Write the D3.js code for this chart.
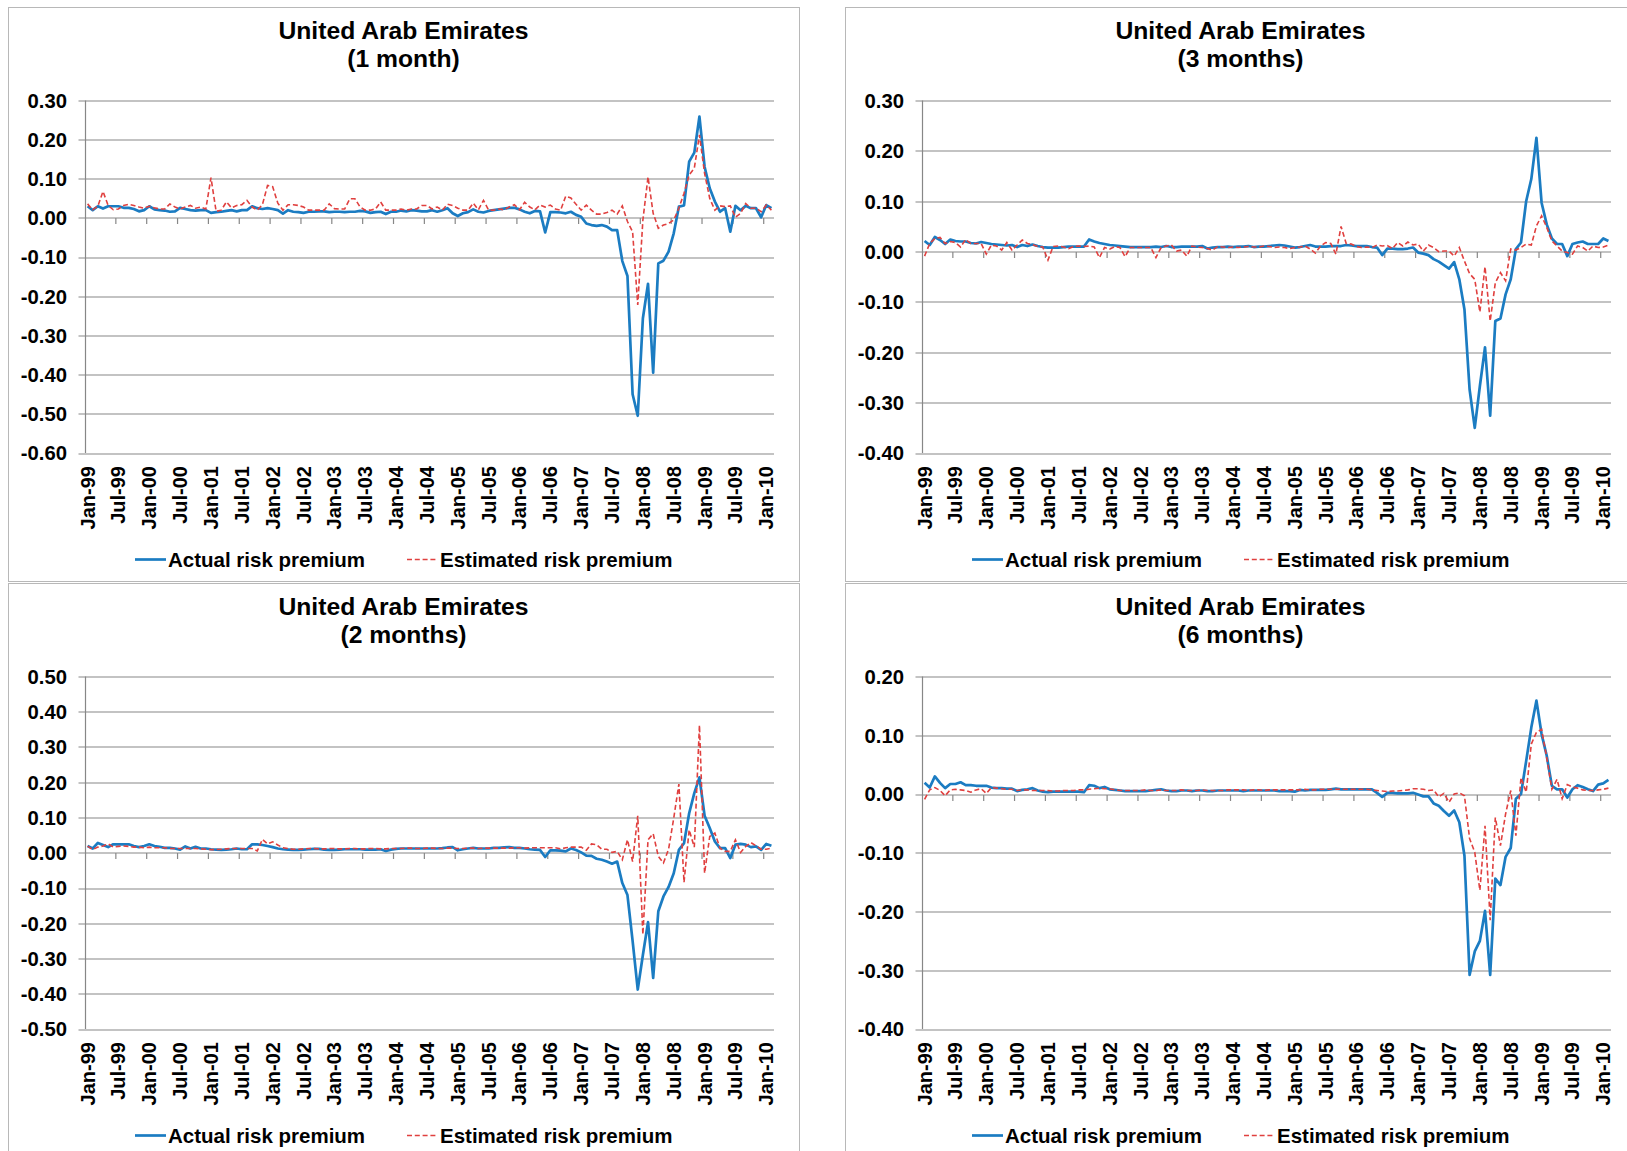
<!DOCTYPE html>
<html>
<head>
<meta charset="utf-8">
<script src="https://cdn.jsdelivr.net/npm/d3@7"></script>
<style>
	body { margin: 0; background: #fff; }
	text { font-family: "Liberation Sans", Arial, sans-serif; font-weight: bold; fill: #000; }
</style>
</head>
<body>
<div id="dataviz"></div>
<script>
// categorie (mesi)
var months = [
	"Jan-99","Feb-99","Mar-99","Apr-99","May-99","Jun-99","Jul-99","Aug-99","Sep-99","Oct-99","Nov-99","Dec-99",
	"Jan-00","Feb-00","Mar-00","Apr-00","May-00","Jun-00","Jul-00","Aug-00","Sep-00","Oct-00","Nov-00","Dec-00",
	"Jan-01","Feb-01","Mar-01","Apr-01","May-01","Jun-01","Jul-01","Aug-01","Sep-01","Oct-01","Nov-01","Dec-01",
	"Jan-02","Feb-02","Mar-02","Apr-02","May-02","Jun-02","Jul-02","Aug-02","Sep-02","Oct-02","Nov-02","Dec-02",
	"Jan-03","Feb-03","Mar-03","Apr-03","May-03","Jun-03","Jul-03","Aug-03","Sep-03","Oct-03","Nov-03","Dec-03",
	"Jan-04","Feb-04","Mar-04","Apr-04","May-04","Jun-04","Jul-04","Aug-04","Sep-04","Oct-04","Nov-04","Dec-04",
	"Jan-05","Feb-05","Mar-05","Apr-05","May-05","Jun-05","Jul-05","Aug-05","Sep-05","Oct-05","Nov-05","Dec-05",
	"Jan-06","Feb-06","Mar-06","Apr-06","May-06","Jun-06","Jul-06","Aug-06","Sep-06","Oct-06","Nov-06","Dec-06",
	"Jan-07","Feb-07","Mar-07","Apr-07","May-07","Jun-07","Jul-07","Aug-07","Sep-07","Oct-07","Nov-07","Dec-07",
	"Jan-08","Feb-08","Mar-08","Apr-08","May-08","Jun-08","Jul-08","Aug-08","Sep-08","Oct-08","Nov-08","Dec-08",
	"Jan-09","Feb-09","Mar-09","Apr-09","May-09","Jun-09","Jul-09","Aug-09","Sep-09","Oct-09","Nov-09","Dec-09",
	"Jan-10","Feb-10"
];

// etichette asse x (ogni 6 mesi)
var tick_labels = ["Jan-99","Jul-99","Jan-00","Jul-00","Jan-01","Jul-01","Jan-02","Jul-02","Jan-03","Jul-03",
	"Jan-04","Jul-04","Jan-05","Jul-05","Jan-06","Jul-06","Jan-07","Jul-07","Jan-08","Jul-08","Jan-09","Jul-09","Jan-10"];

// 1 month
var actual_1m = [
	0.03, 0.02, 0.03, 0.024, 0.03, 0.03, 0.03, 0.026, 0.026, 0.023,
	0.017, 0.02, 0.03, 0.022, 0.02, 0.019, 0.016, 0.017, 0.026, 0.023,
	0.02, 0.019, 0.02, 0.02, 0.013, 0.015, 0.016, 0.018, 0.02, 0.017,
	0.02, 0.02, 0.03, 0.025, 0.023, 0.025, 0.023, 0.02, 0.011, 0.02,
	0.016, 0.015, 0.013, 0.016, 0.016, 0.017, 0.017, 0.015, 0.016, 0.016,
	0.015, 0.016, 0.016, 0.018, 0.017, 0.013, 0.015, 0.016, 0.01, 0.016,
	0.016, 0.019, 0.017, 0.02, 0.019, 0.017, 0.017, 0.02, 0.016, 0.02,
	0.025, 0.012, 0.005, 0.012, 0.015, 0.022, 0.016, 0.014, 0.018, 0.02,
	0.022, 0.024, 0.026, 0.026, 0.022, 0.016, 0.012, 0.018, 0.017, -0.037,
	0.015, 0.015, 0.014, 0.012, 0.016, 0.008, 0.003, -0.014, -0.018, -0.02,
	-0.018, -0.022, -0.031, -0.031, -0.11, -0.148, -0.45, -0.505, -0.256, -0.168,
	-0.395, -0.116, -0.109, -0.086, -0.039, 0.029, 0.032, 0.144, 0.167, 0.259,
	0.131, 0.076, 0.042, 0.016, 0.025, -0.035, 0.031, 0.02, 0.031, 0.025,
	0.025, 0.002, 0.033, 0.025
];
var estimated_1m = [
	0.036, 0.021, 0.03, 0.068, 0.032, 0.021, 0.023, 0.032, 0.035, 0.032,
	0.028, 0.025, 0.03, 0.026, 0.023, 0.023, 0.036, 0.028, 0.023, 0.028,
	0.032, 0.025, 0.028, 0.023, 0.103, 0.017, 0.02, 0.041, 0.026, 0.032,
	0.034, 0.045, 0.028, 0.02, 0.034, 0.083, 0.08, 0.038, 0.02, 0.034,
	0.034, 0.032, 0.028, 0.02, 0.02, 0.02, 0.02, 0.036, 0.024, 0.023,
	0.023, 0.049, 0.049, 0.028, 0.02, 0.02, 0.023, 0.041, 0.02, 0.02,
	0.02, 0.023, 0.02, 0.023, 0.023, 0.032, 0.032, 0.023, 0.028, 0.02,
	0.035, 0.032, 0.025, 0.02, 0.02, 0.038, 0.021, 0.045, 0.02, 0.02,
	0.023, 0.021, 0.028, 0.034, 0.021, 0.04, 0.028, 0.021, 0.033, 0.028,
	0.033, 0.023, 0.02, 0.056, 0.051, 0.035, 0.02, 0.033, 0.02, 0.01,
	0.01, 0.014, 0.02, 0.01, 0.031, -0.009, -0.035, -0.222, -0.005, 0.105,
	0.012, -0.026, -0.018, -0.014, -0.005, 0.025, 0.063, 0.11, 0.127, 0.212,
	0.114, 0.05, 0.02, 0.031, 0.029, 0.031, 0.002, 0.012, 0.037, 0.025,
	0.025, 0.016, 0.033, 0.02
];

// 3 months
var actual_3m = [
	0.021, 0.013, 0.029, 0.023, 0.015, 0.024, 0.021, 0.02, 0.02, 0.017,
	0.016, 0.019, 0.017, 0.015, 0.014, 0.013, 0.012, 0.013, 0.009, 0.013,
	0.011, 0.014, 0.011, 0.009, 0.008, 0.008, 0.008, 0.009, 0.01, 0.01,
	0.01, 0.01, 0.024, 0.02, 0.017, 0.015, 0.013, 0.012, 0.011, 0.01,
	0.009, 0.009, 0.009, 0.009, 0.009, 0.01, 0.009, 0.011, 0.009, 0.009,
	0.01, 0.01, 0.01, 0.01, 0.011, 0.006, 0.008, 0.009, 0.009, 0.01,
	0.009, 0.01, 0.01, 0.011, 0.009, 0.01, 0.01, 0.011, 0.012, 0.013,
	0.012, 0.01, 0.008, 0.009, 0.011, 0.013, 0.01, 0.01, 0.01, 0.011,
	0.011, 0.011, 0.013, 0.012, 0.011, 0.011, 0.011, 0.009, 0.008, -0.007,
	0.006, 0.006, 0.005, 0.005, 0.006, 0.008, -0.002, -0.004, -0.007, -0.015,
	-0.02, -0.027, -0.034, -0.021, -0.055, -0.115, -0.274, -0.35, -0.267, -0.19,
	-0.326, -0.138, -0.133, -0.085, -0.055, 0.005, 0.018, 0.1, 0.144, 0.226,
	0.097, 0.054, 0.026, 0.015, 0.015, -0.009, 0.015, 0.018, 0.02, 0.015,
	0.015, 0.015, 0.026, 0.021
];
var estimated_3m = [
	-0.009, 0.016, 0.026, 0.028, 0.016, 0.02, 0.018, 0.009, 0.024, 0.016,
	0.016, 0.016, -0.005, 0.013, 0.011, 0.003, 0.018, 0.003, 0.013, 0.023,
	0.016, 0.014, 0.01, 0.009, -0.017, 0.01, 0.011, 0.009, 0.006, 0.01,
	0.011, 0.01, 0.011, 0.009, -0.012, 0.008, 0.005, 0.01, 0.008, -0.01,
	0.008, 0.008, 0.008, 0.008, 0.008, -0.012, 0.008, 0.011, 0.013, 0.001,
	0.003, -0.009, 0.011, 0.009, 0.008, 0.006, 0.003, 0.01, 0.009, 0.008,
	0.009, 0.008, 0.009, 0.01, 0.009, 0.009, 0.011, 0.01, 0.008, 0.009,
	0.008, 0.006, 0.008, 0.009, 0.011, 0.005, -0.003, 0.011, 0.018, 0.016,
	-0.005, 0.05, 0.016, 0.015, 0.01, 0.008, 0.009, 0.008, 0.013, 0.011,
	0.012, 0.006, 0.018, 0.011, 0.019, 0.013, 0.015, 0.001, 0.013, 0.008,
	0, 0.001, 0.001, -0.009, 0.008, -0.019, -0.044, -0.055, -0.12, -0.03,
	-0.138, -0.062, -0.042, -0.058, 0.005, 0.003, 0.008, 0.015, 0.013, 0.051,
	0.071, 0.048, 0.021, 0.011, 0.001, -0.002, -0.005, 0.011, 0.008, 0.001,
	0.011, 0.008, 0.009, 0.013
];

// 2 months
var actual_2m = [
	0.019, 0.012, 0.028, 0.022, 0.016, 0.024, 0.024, 0.024, 0.024, 0.019,
	0.016, 0.019, 0.024, 0.019, 0.017, 0.014, 0.014, 0.012, 0.009, 0.018,
	0.012, 0.017, 0.012, 0.012, 0.01, 0.009, 0.008, 0.009, 0.01, 0.012,
	0.01, 0.01, 0.024, 0.024, 0.022, 0.019, 0.016, 0.012, 0.01, 0.009,
	0.008, 0.008, 0.009, 0.01, 0.011, 0.011, 0.009, 0.008, 0.008, 0.009,
	0.01, 0.01, 0.01, 0.01, 0.009, 0.009, 0.009, 0.01, 0.005, 0.009,
	0.011, 0.012, 0.012, 0.012, 0.012, 0.012, 0.012, 0.012, 0.012, 0.013,
	0.015, 0.016, 0.007, 0.01, 0.012, 0.014, 0.012, 0.012, 0.012, 0.014,
	0.014, 0.015, 0.016, 0.014, 0.014, 0.012, 0.01, 0.009, 0.008, -0.012,
	0.007, 0.007, 0.006, 0.004, 0.012, 0.008, 0.001, -0.008, -0.009, -0.017,
	-0.02, -0.025, -0.031, -0.025, -0.086, -0.12, -0.25, -0.388, -0.29, -0.197,
	-0.355, -0.166, -0.124, -0.097, -0.058, 0.008, 0.027, 0.112, 0.169, 0.214,
	0.105, 0.07, 0.032, 0.013, 0.013, -0.015, 0.023, 0.025, 0.023, 0.016,
	0.018, 0.008, 0.025, 0.02
];
var estimated_2m = [
	0.019, 0.009, 0.016, 0.019, 0.025, 0.016, 0.018, 0.019, 0.018, 0.016,
	0.016, 0.014, 0.016, 0.014, 0.014, 0.014, 0.012, 0.012, 0.012, 0.012,
	0.012, 0.012, 0.011, 0.01, 0.009, 0.009, 0.01, 0.011, 0.012, 0.012,
	0.012, 0.012, 0.012, 0.005, 0.038, 0.025, 0.031, 0.022, 0.014, 0.012,
	0.01, 0.01, 0.011, 0.012, 0.012, 0.011, 0.011, 0.012, 0.012, 0.011,
	0.011, 0.012, 0.012, 0.011, 0.011, 0.012, 0.012, 0.011, 0.011, 0.012,
	0.012, 0.012, 0.013, 0.013, 0.012, 0.012, 0.013, 0.013, 0.012, 0.012,
	0.013, 0.013, 0.012, 0.012, 0.013, 0.013, 0.012, 0.013, 0.013, 0.013,
	0.013, 0.013, 0.013, 0.014, 0.014, 0.013, 0.014, 0.014, 0.014, 0.014,
	0.014, 0.014, 0.011, 0.014, 0.016, 0.016, 0.016, 0.007, 0.025, 0.023,
	0.01, 0.01, 0.001, 0.004, -0.02, 0.037, -0.025, 0.105, -0.232, 0.037,
	0.054, -0.01, -0.029, 0.01, 0.098, 0.195, -0.084, 0.065, 0.016, 0.362,
	-0.058, 0.046, 0.056, 0.013, 0.004, 0.004, 0.037, 0.001, 0.018, 0.029,
	0.02, 0.01, 0.01, 0.013
];

// 6 months
var actual_6m = [
	0.019, 0.011, 0.03, 0.019, 0.01, 0.017, 0.017, 0.02, 0.015, 0.015,
	0.014, 0.014, 0.014, 0.011, 0.01, 0.01, 0.009, 0.009, 0.005, 0.007,
	0.008, 0.01, 0.006, 0.004, 0.003, 0.004, 0.004, 0.004, 0.004, 0.004,
	0.004, 0.003, 0.015, 0.014, 0.01, 0.012, 0.008, 0.007, 0.006, 0.005,
	0.005, 0.005, 0.005, 0.005, 0.006, 0.007, 0.008, 0.006, 0.005, 0.005,
	0.006, 0.006, 0.005, 0.006, 0.006, 0.005, 0.005, 0.006, 0.006, 0.006,
	0.006, 0.006, 0.005, 0.006, 0.006, 0.006, 0.006, 0.006, 0.006, 0.005,
	0.005, 0.005, 0.004, 0.007, 0.006, 0.007, 0.007, 0.007, 0.007, 0.008,
	0.009, 0.008, 0.008, 0.008, 0.008, 0.008, 0.008, 0.008, 0.002, -0.005,
	0.002, 0.002, 0.001, 0.001, 0.001, 0.002, -0.001, -0.004, -0.004, -0.016,
	-0.02, -0.029, -0.037, -0.028, -0.048, -0.105, -0.308, -0.268, -0.25, -0.199,
	-0.308, -0.144, -0.155, -0.107, -0.092, -0.008, 0, 0.056, 0.113, 0.159,
	0.102, 0.065, 0.014, 0.008, 0.008, -0.006, 0.008, 0.015, 0.012, 0.008,
	0.005, 0.016, 0.018, 0.024
];
var estimated_6m = [
	-0.009, 0.007, 0.011, 0.006, -0.003, 0.007, 0.008, 0.007, 0.006, 0.003,
	0.007, 0.009, 0.001, 0.011, 0.01, 0.009, 0.008, 0.008, 0.006, 0.007,
	0.007, 0.006, 0.006, 0.006, 0.006, 0.005, 0.005, 0.006, 0.006, 0.006,
	0.007, 0.007, 0.008, 0.009, 0.01, 0.009, 0.009, 0.007, 0.006, 0.006,
	0.006, 0.006, 0.006, 0.007, 0.006, 0.006, 0.007, 0.006, 0.006, 0.006,
	0.007, 0.006, 0.006, 0.006, 0.007, 0.006, 0.006, 0.006, 0.006, 0.007,
	0.007, 0.007, 0.007, 0.006, 0.007, 0.007, 0.006, 0.007, 0.007, 0.007,
	0.007, 0.007, 0.007, 0.007, 0.008, 0.007, 0.007, 0.008, 0.008, 0.008,
	0.008, 0.008, 0.008, 0.008, 0.008, 0.008, 0.008, 0.007, 0.006, 0.005,
	0.004, 0.005, 0.005, 0.006, 0.007, 0.009, 0.009, 0.008, 0.006, 0.007,
	-0.005, 0.001, -0.014, 0, 0.002, -0.003, -0.076, -0.099, -0.164, -0.054,
	-0.215, -0.04, -0.088, -0.034, 0.006, -0.071, 0.028, 0.003, 0.085, 0.105,
	0.11, 0.062, 0.008, 0.025, -0.008, 0.016, 0.012, 0.01, 0.007, 0.006,
	0.006, 0.007, 0.008, 0.01
];

// valori asse y per ogni grafico
var y_ticks_1m = [-0.6, -0.5, -0.4, -0.3, -0.2, -0.1, 0, 0.1, 0.2, 0.3];
var y_ticks_3m = [-0.4, -0.3, -0.2, -0.1, 0, 0.1, 0.2, 0.3];
var y_ticks_2m = [-0.5, -0.4, -0.3, -0.2, -0.1, 0, 0.1, 0.2, 0.3, 0.4, 0.5];
var y_ticks_6m = [-0.4, -0.3, -0.2, -0.1, 0, 0.1, 0.2];

var country = "United Arab Emirates";
var legend_labels = ["Actual risk premium", "Estimated risk premium"];

var width = 1627;
var height = 1151;
var panel_w = 791;
var panel_h = 574;
var plot = {left: 77, top: 93.5, w: 689, h: 352.5};
var blue = "#1b7cc2";
var red = "#e0403f";
var grid_color = "#878787";

var svg = d3.select("#dataviz").append("svg")
	.attr("width", width)
	.attr("height", height);

var x = d3.scaleBand()
	.domain(months)
	.range([0, plot.w])
	.padding(0);

// formato con trattino normale invece del segno meno unicode
function fmt(d){
	var s = Math.abs(d).toFixed(2);
	return d < -0.0001 ? "-" + s : s;
}

// funzione per disegnare un grafico
function draw_panel(p){
	var g = svg.append("g")
		.attr("transform", "translate(" + p.x + "," + p.y + ")");

	g.append("rect")
		.attr("x", 0.5).attr("y", 0.5)
		.attr("width", panel_w).attr("height", panel_h)
		.attr("fill", "none")
		.attr("stroke", "#b8b8b8")
		.attr("stroke-width", 1);

	g.append("text")
		.attr("x", panel_w / 2)
		.attr("y", 32)
		.attr("text-anchor", "middle")
		.style("font-size", "24.7px")
		.text(country);
	g.append("text")
		.attr("x", panel_w / 2)
		.attr("y", 60)
		.attr("text-anchor", "middle")
		.style("font-size", "24.7px")
		.text(p.subtitle);

	var area = g.append("g")
		.attr("transform", "translate(" + plot.left + "," + plot.top + ")");

	var y = d3.scaleLinear()
		.domain(d3.extent(p.y_ticks))
		.range([plot.h, 0]);

	// griglia
	area.selectAll(".grid")
		.data(p.y_ticks)
		.enter()
		.append("line")
		.attr("class", "grid")
		.attr("x1", -6.5)
		.attr("x2", plot.w)
		.attr("y1", function(d){ return Math.round(y(d)) + 0.5; })
		.attr("y2", function(d){ return Math.round(y(d)) + 0.5; })
		.style("stroke", grid_color)
		.style("stroke-width", 1.2);

	// asse y
	area.append("line")
		.attr("x1", 0.5).attr("x2", 0.5)
		.attr("y1", 0).attr("y2", plot.h)
		.style("stroke", grid_color)
		.style("stroke-width", 1.2);

	area.selectAll(".ylab")
		.data(p.y_ticks)
		.enter()
		.append("text")
		.attr("class", "ylab")
		.attr("x", -18)
		.attr("y", function(d){ return y(d); })
		.attr("dy", "0.36em")
		.attr("text-anchor", "end")
		.style("font-size", "20.3px")
		.text(fmt);

	// tacche asse x sullo zero
	var y0 = Math.round(y(0)) + 0.5;
	area.selectAll(".xtick")
		.data(tick_labels.slice(1))
		.enter()
		.append("line")
		.attr("x1", function(d){ return x(d); })
		.attr("x2", function(d){ return x(d); })
		.attr("y1", y0)
		.attr("y2", y0 + 6)
		.style("stroke", grid_color)
		.style("stroke-width", 1.2);

	area.selectAll(".xlab")
		.data(tick_labels)
		.enter()
		.append("text")
		.attr("transform", function(d){
			return "translate(" + (x(d) + x.bandwidth() / 2) + "," + (plot.h + 13) + ") rotate(-90)";
		})
		.attr("text-anchor", "end")
		.attr("dominant-baseline", "central")
		.style("font-size", "20px")
		.text(function(d){ return d; });

	var line = d3.line()
		.x(function(d, i){ return x(months[i]) + x.bandwidth() / 2; })
		.y(function(d){ return y(d); });

	area.append("path")
		.datum(p.actual)
		.attr("d", line)
		.style("fill", "none")
		.style("stroke", blue)
		.style("stroke-width", 2.7)
		.style("stroke-linejoin", "round");

	area.append("path")
		.datum(p.estimated)
		.attr("d", line)
		.style("fill", "none")
		.style("stroke", red)
		.style("stroke-width", 1.6)
		.style("stroke-dasharray", "5,2.8");

	// legenda
	var ly = 552.5;
	g.append("line")
		.attr("x1", 127).attr("x2", 158)
		.attr("y1", ly).attr("y2", ly)
		.style("stroke", blue)
		.style("stroke-width", 2.7);
	g.append("text")
		.attr("x", 160).attr("y", ly)
		.attr("dy", "0.36em")
		.style("font-size", "20.5px")
		.text(legend_labels[0]);
	g.append("line")
		.attr("x1", 399).attr("x2", 430)
		.attr("y1", ly).attr("y2", ly)
		.style("stroke", red)
		.style("stroke-width", 1.6)
		.style("stroke-dasharray", "5,2.8");
	g.append("text")
		.attr("x", 432).attr("y", ly)
		.attr("dy", "0.36em")
		.style("font-size", "20.5px")
		.text(legend_labels[1]);
}

var panels = [
	{x: 8, y: 7, subtitle: "(1 month)", actual: actual_1m, estimated: estimated_1m, y_ticks: y_ticks_1m},
	{x: 845, y: 7, subtitle: "(3 months)", actual: actual_3m, estimated: estimated_3m, y_ticks: y_ticks_3m},
	{x: 8, y: 583, subtitle: "(2 months)", actual: actual_2m, estimated: estimated_2m, y_ticks: y_ticks_2m},
	{x: 845, y: 583, subtitle: "(6 months)", actual: actual_6m, estimated: estimated_6m, y_ticks: y_ticks_6m}
];

panels.forEach(function(p){
	draw_panel(p);
});
</script>
</body>
</html>
